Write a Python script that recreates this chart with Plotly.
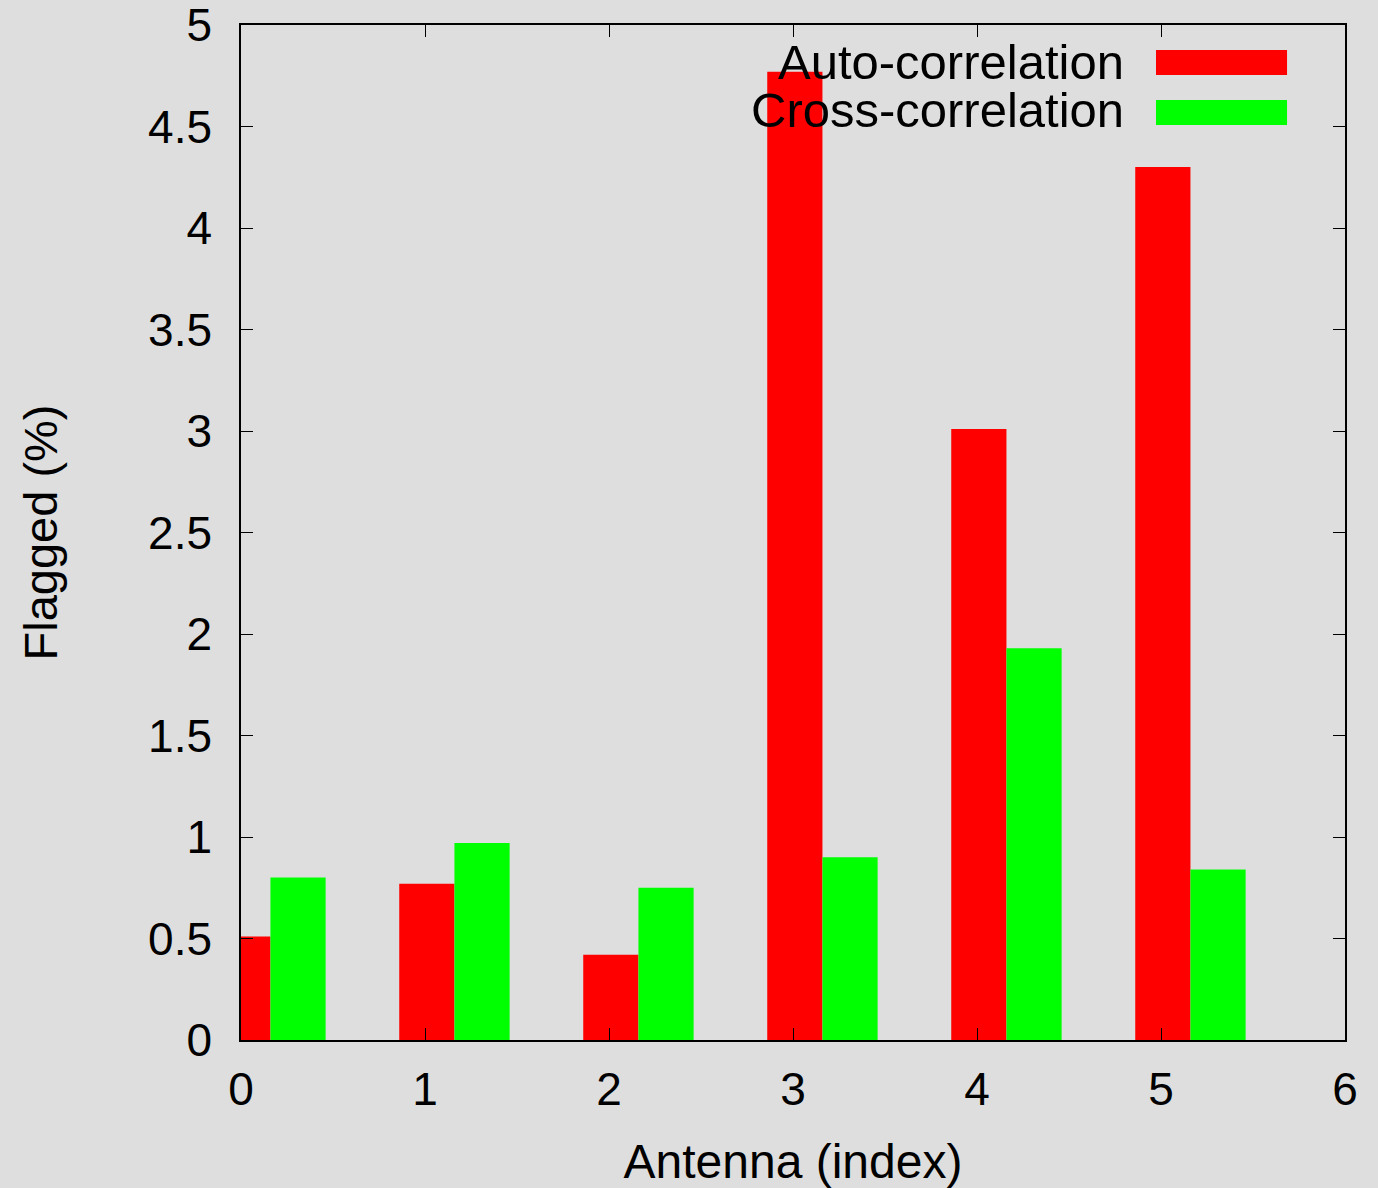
import plotly.graph_objects as go

# Flagged percentage per antenna
antenna = [0, 1, 2, 3, 4, 5]
auto_corr = [0.51, 0.77, 0.42, 4.77, 3.01, 4.30]
cross_corr = [0.80, 0.97, 0.75, 0.90, 1.93, 0.84]

series_names = ["Auto-correlation", "Cross-correlation"]
series_colors = ["#ff0000", "#00ff00"]

x_ticks = [0, 1, 2, 3, 4, 5, 6]
y_ticks = [0, 0.5, 1, 1.5, 2, 2.5, 3, 3.5, 4, 4.5, 5]
y_tick_text = ["0", "0.5", "1", "1.5", "2", "2.5", "3", "3.5", "4", "4.5", "5"]

BG = "#dedede"
FONT = "Liberation Sans, Arial, sans-serif"
BAR_W = 0.3

fig = go.Figure()

fig.add_trace(go.Bar(
    x=antenna, y=auto_corr, name=series_names[0],
    width=BAR_W, offset=-0.14,
    marker=dict(color=series_colors[0], line=dict(width=0)),
    showlegend=False,
))
fig.add_trace(go.Bar(
    x=antenna, y=cross_corr, name=series_names[1],
    width=BAR_W, offset=0.16,
    marker=dict(color=series_colors[1], line=dict(width=0)),
    showlegend=False,
))

# key: right-aligned labels followed by colour swatches
key_y = [4.818, 4.581]
for name, ky in zip(series_names, key_y):
    fig.add_annotation(x=4.812, y=ky, xref="x", yref="y",
                       text=name, showarrow=False,
                       xanchor="right", yanchor="middle",
                       font=dict(family=FONT, size=49, color="#000000"))

swatches = [(0.9754, 0.9507), (0.9261, 0.9015)]
for (y1, y0), col in zip(swatches, series_colors):
    fig.add_shape(type="rect", xref="paper", yref="paper",
                  x0=0.8288, x1=0.9475, y0=y0, y1=y1,
                  fillcolor=col, line=dict(width=0))

axis_common = dict(
    showgrid=False, zeroline=False, automargin=False,
    showline=True, linecolor="#000000", linewidth=1.5,
    mirror="ticks", ticks="inside", ticklen=12, tickwidth=1.2,
    tickcolor="#000000", ticklabeloverflow="allow",
    tickfont=dict(family=FONT, size=46, color="#000000"),
)

fig.update_layout(
    width=1378, height=1188,
    margin=dict(l=241, r=33, t=25, b=148),
    paper_bgcolor=BG, plot_bgcolor=BG,
    barmode="overlay",
    showlegend=False,
    xaxis=dict(
        range=[0, 6], tickvals=x_ticks, ticktext=[str(v) for v in x_ticks],
        ticklabelstandoff=8,
        title=dict(text="Antenna (index)", standoff=34,
                   font=dict(family=FONT, size=48, color="#000000")),
        **axis_common,
    ),
    yaxis=dict(
        range=[0, 5], tickvals=y_ticks, ticktext=y_tick_text,
        ticklabelstandoff=18,
        title=dict(text="Flagged (%)", standoff=76,
                   font=dict(family=FONT, size=47, color="#000000")),
        **axis_common,
    ),
)

fig.write_html("out.html")
